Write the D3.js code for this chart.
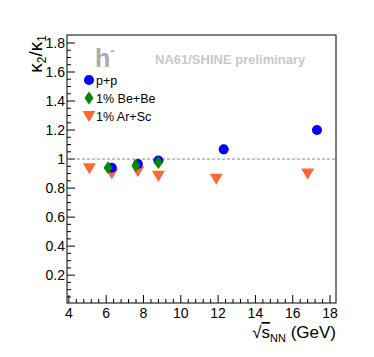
<!DOCTYPE html>
<html>
<head>
<meta charset="utf-8">
<script src="https://cdn.jsdelivr.net/npm/d3@7"></script>
<style>
  html, body { margin: 0; background: #fff; }
  svg { display: block; font-family: "Liberation Sans", Arial, sans-serif; }
</style>
</head>
<body>
<div id="chart"></div>
<script>
// values
var ppEnergy = [6.3, 7.7, 8.8, 12.3, 17.3];
var ppRatio = [0.94, 0.966, 0.99, 1.067, 1.20];
var beEnergy = [6.1, 7.6, 8.8];
var beRatio = [0.94, 0.955, 0.977];
var arEnergy = [5.1, 6.3, 7.7, 8.8, 11.9, 16.8];
var arRatio = [0.936, 0.90, 0.916, 0.885, 0.864, 0.90];
var xTicks = [4, 6, 8, 10, 12, 14, 16, 18];
var yTicks = [0.2, 0.4, 0.6, 0.8, 1, 1.2, 1.4, 1.6, 1.8];
var legendLabels = ["p+p", "1% Be+Be", "1% Ar+Sc"];

var width = 374, height = 357;
var fLeft = 67, fRight = 336, fTop = 35, fBottom = 303;

var svg = d3.select("#chart").append("svg")
    .attr("width", width)
    .attr("height", height);

var x = d3.scaleLinear().domain([3.9, 18.32]).range([fLeft, fRight]);
var y = d3.scaleLinear().domain([0.008, 1.855]).range([fBottom, fTop]);

// minor ticks
var xMinor = d3.range(4, 18.4, 0.4).filter(function(d) { return Math.abs(d / 2 - Math.round(d / 2)) > 0.01; });
var yMinor = d3.range(0.05, 1.85, 0.05).filter(function(d) { return Math.abs(d / 0.2 - Math.round(d / 0.2)) > 0.01; });

var axes = svg.append("g").attr("stroke", "#000").attr("stroke-width", 1);
axes.selectAll(".xmaj").data(xTicks).enter().append("line")
    .attr("x1", d => x(d)).attr("x2", d => x(d))
    .attr("y1", fBottom).attr("y2", fBottom - 8);
axes.selectAll(".xmin").data(xMinor).enter().append("line")
    .attr("x1", d => x(d)).attr("x2", d => x(d))
    .attr("y1", fBottom).attr("y2", fBottom - 4);
axes.selectAll(".ymaj").data(yTicks).enter().append("line")
    .attr("x1", fLeft).attr("x2", fLeft + 8)
    .attr("y1", d => y(d)).attr("y2", d => y(d));
axes.selectAll(".ymin").data(yMinor).enter().append("line")
    .attr("x1", fLeft).attr("x2", fLeft + 4)
    .attr("y1", d => y(d)).attr("y2", d => y(d));

svg.append("rect")
    .attr("x", fLeft).attr("y", fTop)
    .attr("width", fRight - fLeft).attr("height", fBottom - fTop)
    .attr("fill", "none").attr("stroke", "#000").attr("stroke-width", 1);

// tick labels
svg.selectAll(".xl").data(xTicks).enter().append("text")
    .attr("x", d => x(d)).attr("y", fBottom + 15)
    .attr("text-anchor", "middle").attr("font-size", 14)
    .text(d => d);
svg.selectAll(".yl").data(yTicks).enter().append("text")
    .attr("x", fLeft - 2).attr("y", d => y(d) + 5)
    .attr("text-anchor", "end").attr("font-size", 14)
    .text(d => d === 1 ? "1" : d.toFixed(1));

// axis titles
var xt = svg.append("text").attr("x", fRight).attr("y", 338)
    .attr("text-anchor", "end").attr("font-size", 17);
xt.append("tspan").text("\u221A");
xt.append("tspan").attr("text-decoration", "overline").text("s");
xt.append("tspan").attr("font-size", 11).attr("dy", 4).text("NN");
xt.append("tspan").attr("dy", -4).text(" (GeV)");

var yt = svg.append("text")
    .attr("transform", "translate(42," + fTop + ") rotate(-90)")
    .attr("text-anchor", "end").attr("font-size", 19);
yt.append("tspan").text("\u03BA");
yt.append("tspan").attr("font-size", 12).attr("dy", 4).text("2");
yt.append("tspan").attr("dy", -4).text("/\u03BA");
yt.append("tspan").attr("font-size", 12).attr("dy", 4).text("1");

// reference line
svg.append("line")
    .attr("x1", fLeft).attr("x2", fRight)
    .attr("y1", y(1)).attr("y2", y(1))
    .attr("stroke", "#888").attr("stroke-width", 1).attr("stroke-dasharray", "3,2");

// annotations
var h = svg.append("text").attr("x", 95).attr("y", 67)
    .attr("font-size", 25).attr("font-weight", "bold").attr("fill", "#aaa");
h.append("tspan").text("h");
h.append("tspan").attr("font-size", 13).attr("dy", -12).text("-");
svg.append("text").attr("x", 155).attr("y", 64)
    .attr("font-size", 13).attr("font-weight", "bold").attr("fill", "#c8c8c8")
    .text("NA61/SHINE preliminary");

var circle = d3.symbol().type(d3.symbolCircle).size(80);
var diamond = "M0,-6.5L4.5,0L0,6.5L-4.5,0Z";
var triDown = "M-6.5,-5L6.5,-5L0,6Z";

var blue = "#0000ff", green = "#008800", orange = "#ff6633";

// data markers
svg.selectAll(".ar").data(arEnergy).enter().append("path")
    .attr("d", triDown).attr("fill", orange)
    .attr("transform", (d, i) => "translate(" + x(d) + "," + y(arRatio[i]) + ")");
svg.selectAll(".pp").data(ppEnergy).enter().append("path")
    .attr("d", circle).attr("fill", blue)
    .attr("transform", (d, i) => "translate(" + x(d) + "," + y(ppRatio[i]) + ")");
svg.selectAll(".be").data(beEnergy).enter().append("path")
    .attr("d", diamond).attr("fill", green)
    .attr("transform", (d, i) => "translate(" + x(d) + "," + y(beRatio[i]) + ")");

// legend
var legendShapes = [circle(), diamond, triDown];
var legendColors = [blue, green, orange];
var lg = svg.selectAll(".lg").data(legendLabels).enter().append("g")
    .attr("transform", (d, i) => "translate(89," + (80 + i * 18) + ")");
lg.append("path").attr("d", (d, i) => legendShapes[i]).attr("fill", (d, i) => legendColors[i]);
lg.append("text").attr("x", 7).attr("y", 5).attr("font-size", 12.5).text(d => d);
</script>
</body>
</html>
